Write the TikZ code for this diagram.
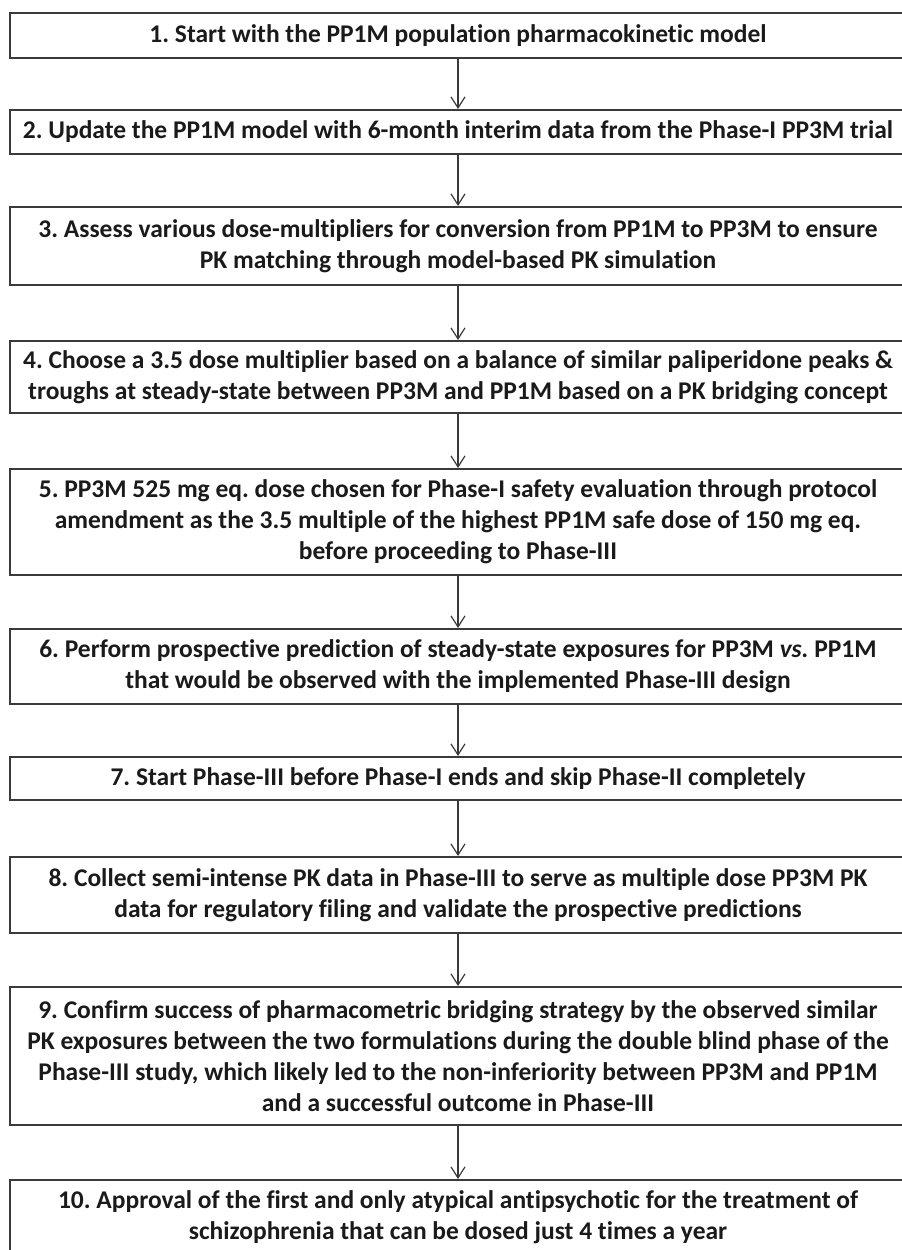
\documentclass[tikz,border=0pt]{standalone}
\usepackage{fontspec}
\setmainfont{Carlito}[Ligatures={NoCommon}]
\usetikzlibrary{arrows.meta}
\definecolor{boxline}{HTML}{3A3A3A}
\definecolor{txt}{HTML}{1A1A1A}
\frenchspacing
\begin{document}
\begin{tikzpicture}[x=1pt,y=1pt,
  stepbox/.style={draw=boxline, line width=2pt, minimum width=896pt, inner sep=0pt,
    align=center, text=txt, font=\fontsize{25.5}{31}\selectfont\bfseries},
  flow/.style={draw=boxline, line width=1.2pt, -{Straight Barb[length=11pt,width=14pt,line width=1.2pt]}}]
\useasboundingbox (0,0) rectangle (902,-1250);
\clip (0,0) rectangle (902,-1250);
\node[stepbox, minimum height=45pt] (b1) at (458,-35.5) {1. Start with the PP1M population pharmacokinetic model};
\node[stepbox, minimum height=44pt] (b2) at (458,-132) {2. Update the PP1M model with 6-month interim data from the Phase-I PP3M trial};
\node[stepbox, minimum height=78pt] (b3) at (458,-246) {3. Assess various dose-multipliers for conversion from PP1M to PP3M to ensure\\PK matching through model-based PK simulation};
\node[stepbox, minimum height=72pt] (b4) at (458,-377) {4. Choose a 3.5 dose multiplier based on a balance of similar paliperidone peaks \&\\troughs at steady-state between PP3M and PP1M based on a PK bridging concept};
\node[stepbox, minimum height=106pt] (b5) at (458,-522) {5. PP3M 525 mg eq. dose chosen for Phase-I safety evaluation through protocol\\amendment as the 3.5 multiple of the highest PP1M safe dose of 150 mg eq.\\before proceeding to Phase-III};
\node[stepbox, minimum height=75pt] (b6) at (458,-666.5) {6. Perform prospective prediction of steady-state exposures for PP3M \textit{vs.} PP1M\\that would be observed with the implemented Phase-III design};
\node[stepbox, minimum height=43pt] (b7) at (458,-778.5) {7. Start Phase-III before Phase-I ends and skip Phase-II completely};
\node[stepbox, minimum height=76pt] (b8) at (458,-895) {8. Collect semi-intense PK data in Phase-III to serve as multiple dose PP3M PK\\data for regulatory filing and validate the prospective predictions};
\node[stepbox, minimum height=138pt] (b9) at (458,-1056) {9. Confirm success of pharmacometric bridging strategy by the observed similar\\PK exposures between the two formulations during the double blind phase of the\\Phase-III study, which likely led to the non-inferiority between PP3M and PP1M\\and a successful outcome in Phase-III};
\node[stepbox, minimum height=75pt] (b10) at (458,-1217.5) {10. Approval of the first and only atypical antipsychotic for the treatment of\\schizophrenia that can be dosed just 4 times a year};
\foreach \a/\b in {b1/b2,b2/b3,b3/b4,b4/b5,b5/b6,b6/b7,b7/b8,b8/b9,b9/b10}
  \draw[flow] (\a.south) -- (\b.north);
\end{tikzpicture}
\end{document}
